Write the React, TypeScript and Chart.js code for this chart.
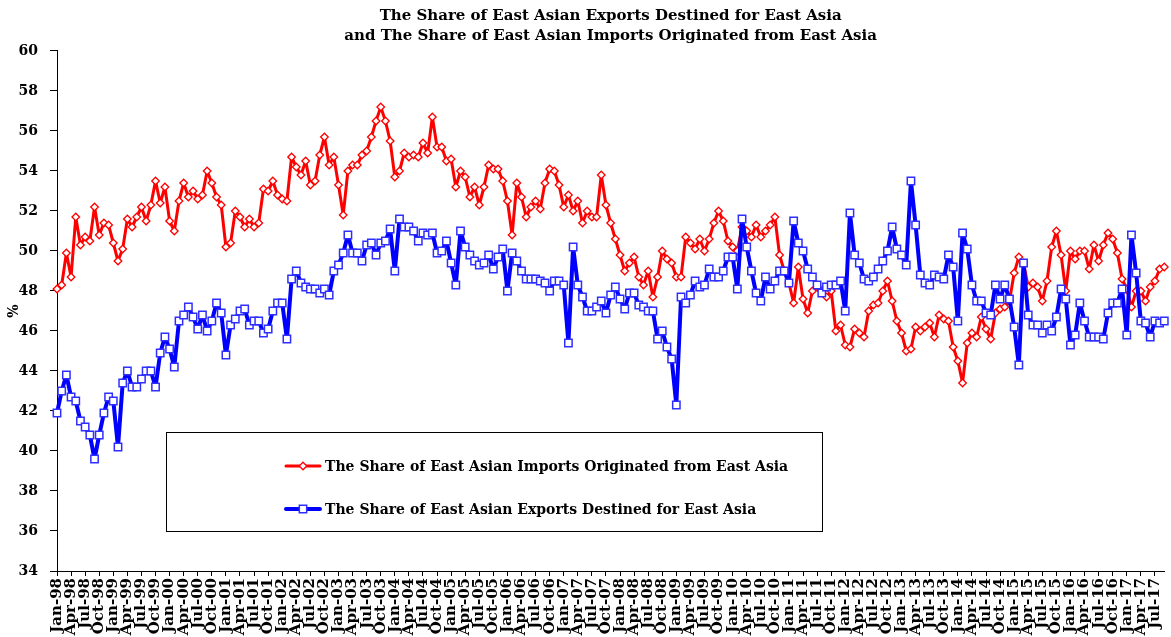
import React, { useEffect, useRef } from "react";
import { Chart, registerables } from "chart.js";

Chart.register(...registerables);

const TITLE_LINES = [
  "The Share of East Asian Exports Destined for East Asia",
  "and The Share of East Asian Imports Originated from East Asia",
];
const IMPORTS_LABEL = "The Share of East Asian Imports Originated from East Asia";
const EXPORTS_LABEL = "The Share of East Asian Exports Destined for East Asia";
const Y_TITLE = "%";
const Y_MIN = 34;
const Y_MAX = 60;
const Y_STEP = 2;
const MONTH_NAMES = ["Jan", "Feb", "Mar", "Apr", "May", "Jun", "Jul", "Aug", "Sep", "Oct", "Nov", "Dec"];
const FIRST_YEAR = 1998;
const LABEL_EVERY = 3;

// monthly, Jan-98 onward
const importsShare: number[] = [
  48.1, 48.3, 49.9, 48.7, 51.7, 50.3, 50.7, 50.5, 52.2, 50.8, 51.4, 51.3,
  50.4, 49.5, 50.1, 51.6, 51.2, 51.7, 52.2, 51.5, 52.3, 53.5, 52.4, 53.2,
  51.5, 51.0, 52.5, 53.4, 52.7, 53.0, 52.6, 52.8, 54.0, 53.4, 52.7, 52.3,
  50.2, 50.4, 52.0, 51.7, 51.2, 51.6, 51.2, 51.4, 53.1, 53.0, 53.5, 52.8,
  52.6, 52.5, 54.7, 54.2, 53.8, 54.5, 53.3, 53.5, 54.8, 55.7, 54.3, 54.7,
  53.3, 51.8, 54.0, 54.3, 54.3, 54.8, 55.0, 55.7, 56.5, 57.2, 56.5, 55.5,
  53.7, 54.0, 54.9, 54.7, 54.8, 54.7, 55.4, 54.9, 56.7, 55.2, 55.2, 54.5,
  54.6, 53.2, 54.0, 53.7, 52.7, 53.2, 52.3, 53.2, 54.3, 54.1, 54.1, 53.5,
  52.5, 50.8, 53.4, 52.7, 51.7, 52.2, 52.5, 52.1, 53.4, 54.1, 54.0, 53.3,
  52.2, 52.8, 52.0, 52.5, 51.4, 52.0, 51.7, 51.7, 53.8, 52.3, 51.4, 50.6,
  49.8, 49.0, 49.4, 49.7, 48.7, 48.3, 49.0, 47.7, 48.7, 50.0, 49.6, 49.4,
  48.7, 48.7, 50.7, 50.4, 50.1, 50.6, 50.0, 50.6, 51.4, 52.0, 51.5, 50.5,
  50.2, 50.0, 51.2, 51.0, 50.7, 51.3, 50.7, 51.0, 51.3, 51.7, 49.8, 49.0,
  48.4, 47.4, 49.2, 47.6, 46.9, 48.0, 48.2, 48.0, 47.7, 48.0, 46.0, 46.3,
  45.3, 45.2, 46.1, 45.9, 45.7, 47.0, 47.3, 47.4, 48.0, 48.5, 47.5, 46.5,
  45.9, 45.0, 45.1, 46.2, 46.0, 46.2, 46.4, 45.7, 46.8, 46.6, 46.5, 45.2,
  44.5, 43.4, 45.4, 45.9, 45.7, 46.7, 46.1, 45.6, 46.9, 47.1, 47.2, 47.5,
  48.9, 49.7, 49.4, 48.2, 48.4, 48.2, 47.5, 48.5, 50.2, 51.0, 49.8, 48.0,
  50.0, 49.6, 50.0, 50.0, 49.1, 50.3, 49.5, 50.3, 50.9, 50.6, 49.9, 48.6,
  48.1, 47.2, 48.0, 48.0, 47.5, 48.2, 48.5, 49.1, 49.2,
];

const exportsShare: number[] = [
  41.9, 43.0, 43.8, 42.7, 42.5, 41.5, 41.2, 40.8, 39.6, 40.8, 41.9, 42.7,
  42.5, 40.2, 43.4, 44.0, 43.2, 43.2, 43.6, 44.0, 44.0, 43.2, 44.9, 45.7,
  45.1, 44.2, 46.5, 46.8, 47.2, 46.7, 46.1, 46.8, 46.0, 46.5, 47.4, 46.9,
  44.8, 46.3, 46.6, 47.0, 47.1, 46.3, 46.5, 46.5, 45.9, 46.1, 47.0, 47.4,
  47.4, 45.6, 48.6, 49.0, 48.4, 48.2, 48.1, 48.1, 47.9, 48.1, 47.8, 49.0,
  49.3, 49.9, 50.8, 49.9, 49.9, 49.5, 50.3, 50.4, 49.8, 50.4, 50.5, 51.1,
  49.0, 51.6, 51.2, 51.2, 51.0, 50.5, 50.9, 50.8, 50.9, 49.9, 50.0, 50.5,
  49.4, 48.3, 51.0, 50.2, 49.8, 49.5, 49.3, 49.4, 49.8, 49.1, 49.7, 50.1,
  48.0, 49.9, 49.5, 49.0, 48.6, 48.6, 48.6, 48.5, 48.4, 48.0, 48.5, 48.5,
  48.3, 45.4, 50.2, 48.3, 47.7, 47.0, 47.0, 47.2, 47.5, 46.9, 47.8, 48.2,
  47.6, 47.1, 47.9, 47.9, 47.3, 47.2, 47.0, 47.0, 45.6, 46.0, 45.2, 44.6,
  42.3, 47.7, 47.4, 47.8, 48.5, 48.2, 48.3, 49.1, 48.7, 48.7, 49.0, 49.7,
  49.7, 48.1, 51.6, 50.2, 49.0, 47.9, 47.5, 48.7, 48.1, 48.5, 49.0, 49.0,
  48.4, 51.5, 50.4, 50.0, 49.1, 48.7, 48.3, 47.9, 48.2, 48.3, 48.3, 48.5,
  47.0, 51.9, 49.8, 49.4, 48.6, 48.5, 48.7, 49.1, 49.5, 50.0, 51.2, 50.1,
  49.8, 49.3, 53.5, 51.3, 48.8, 48.4, 48.3, 48.8, 48.7, 48.6, 49.8, 49.2,
  46.5, 50.9, 50.1, 48.3, 47.5, 47.5, 46.9, 46.8, 48.3, 47.6, 48.3, 47.6,
  46.2, 44.3, 49.4, 46.8, 46.3, 46.3, 45.9, 46.3, 46.0, 46.7, 48.1, 47.6,
  45.3, 45.8, 47.4, 46.5, 45.7, 45.7, 45.7, 45.6, 46.9, 47.4, 47.4, 48.1,
  45.8, 50.8, 48.9, 46.5, 46.4, 45.7, 46.5, 46.4, 46.5,
];

const categories: string[] = importsShare.map(
  (_, i) => `${MONTH_NAMES[i % 12]}-${String((FIRST_YEAR + Math.floor(i / 12)) % 100).padStart(2, "0")}`
);

const FONT = "'DejaVu Serif', 'Liberation Serif', serif";
const RED = "#FF0000";
const BLUE = "#0000FF";

function drawMarker(ctx: CanvasRenderingContext2D, style: string, x: number, y: number, r: number) {
  ctx.beginPath();
  if (style === "rectRot") {
    ctx.moveTo(x, y - r);
    ctx.lineTo(x + r, y);
    ctx.lineTo(x, y + r);
    ctx.lineTo(x - r, y);
    ctx.closePath();
  } else {
    const s = r * Math.SQRT1_2;
    ctx.rect(x - s, y - s, 2 * s, 2 * s);
  }
  ctx.fill();
  ctx.stroke();
}

const boxLegend = {
  id: "boxLegend",
  afterDraw(chart: any) {
    const ctx: CanvasRenderingContext2D = chart.ctx;
    const order = [1, 0];
    const rows = [466, 509];
    ctx.save();
    ctx.fillStyle = "#FFFFFF";
    ctx.fillRect(166, 432, 656, 99);
    ctx.strokeStyle = "#000000";
    ctx.lineWidth = 1;
    ctx.strokeRect(166.5, 432.5, 656, 99);
    order.forEach((dsIndex, row) => {
      const ds = chart.data.datasets[dsIndex];
      const y = rows[row];
      ctx.strokeStyle = ds.borderColor;
      ctx.lineWidth = ds.borderWidth;
      ctx.lineCap = "round";
      ctx.beginPath();
      ctx.moveTo(286, y);
      ctx.lineTo(320, y);
      ctx.stroke();
      ctx.fillStyle = ds.pointBackgroundColor;
      ctx.strokeStyle = ds.pointBorderColor;
      ctx.lineWidth = ds.pointBorderWidth;
      drawMarker(ctx, ds.pointStyle, 303, y, ds.pointRadius);
      ctx.fillStyle = "#000000";
      ctx.font = `bold 14px ${FONT}`;
      ctx.textAlign = "left";
      ctx.textBaseline = "middle";
      ctx.fillText(ds.label, 325, y + 1);
    });
    ctx.restore();
  },
};

export default function App() {
  const canvasRef = useRef<HTMLCanvasElement | null>(null);

  useEffect(() => {
    if (!canvasRef.current) return;
    const chart = new Chart(canvasRef.current, {
      type: "line",
      data: {
        labels: categories,
        datasets: [
          {
            label: EXPORTS_LABEL,
            data: exportsShare,
            borderColor: BLUE,
            borderWidth: 4,
            borderJoinStyle: "round",
            borderCapStyle: "round",
            pointStyle: "rect",
            pointRadius: 5.2,
            pointBackgroundColor: "#FFFFFF",
            pointBorderColor: "#2E2EFF",
            pointBorderWidth: 1.5,
            tension: 0,
            clip: 10,
          },
          {
            label: IMPORTS_LABEL,
            data: importsShare,
            borderColor: RED,
            borderWidth: 3,
            borderJoinStyle: "round",
            borderCapStyle: "round",
            pointStyle: "rectRot",
            pointRadius: 3.8,
            pointBackgroundColor: "#FFFFFF",
            pointBorderColor: RED,
            pointBorderWidth: 1.3,
            tension: 0,
            clip: 10,
          },
        ],
      },
      options: {
        animation: false,
        responsive: true,
        maintainAspectRatio: false,
        layout: { padding: { top: 0, right: 3, left: 0, bottom: 0 } },
        plugins: {
          legend: { display: false },
          tooltip: { enabled: false },
          title: {
            display: true,
            text: TITLE_LINES,
            fullSize: false,
            color: "#000",
            font: { family: FONT, size: 15, weight: "bold", lineHeight: 1.3333 },
            padding: { top: 6, bottom: 5 },
          },
        },
        scales: {
          x: {
            type: "category",
            offset: false,
            grid: { display: true, drawOnChartArea: false, drawTicks: true, tickLength: 5, color: "#000" },
            border: { display: true, color: "#000", width: 1 },
            ticks: {
              autoSkip: false,
              minRotation: 90,
              maxRotation: 90,
              padding: 2,
              color: "#000",
              font: { family: FONT, size: 15, weight: "bold" },
            },
            afterBuildTicks: (scale: any) => {
              scale.ticks = scale.ticks.filter((t: any) => t.value % LABEL_EVERY === 0);
            },
            afterFit: (scale: any) => {
              scale.height = 66;
              scale.paddingLeft = 0;
              scale.paddingRight = 0;
            },
          },
          y: {
            min: Y_MIN,
            max: Y_MAX,
            grid: { display: true, drawOnChartArea: false, drawTicks: true, tickLength: 7, color: "#000" },
            border: { display: true, color: "#000", width: 1 },
            ticks: {
              stepSize: Y_STEP,
              padding: 12,
              color: "#000",
              font: { family: FONT, size: 14, weight: "bold" },
            },
            title: {
              display: true,
              text: Y_TITLE,
              color: "#000",
              font: { family: FONT, size: 14, weight: "bold" },
              padding: { top: 6, bottom: 0 },
            },
            afterFit: (scale: any) => {
              scale.width = 57;
            },
          },
        },
      },
      plugins: [boxLegend],
    });
    return () => chart.destroy();
  }, []);

  return (
    <div style={{ position: "fixed", left: 0, top: 0, width: 1171, height: 637, background: "#fff" }}>
      <canvas ref={canvasRef} />
    </div>
  );
}
